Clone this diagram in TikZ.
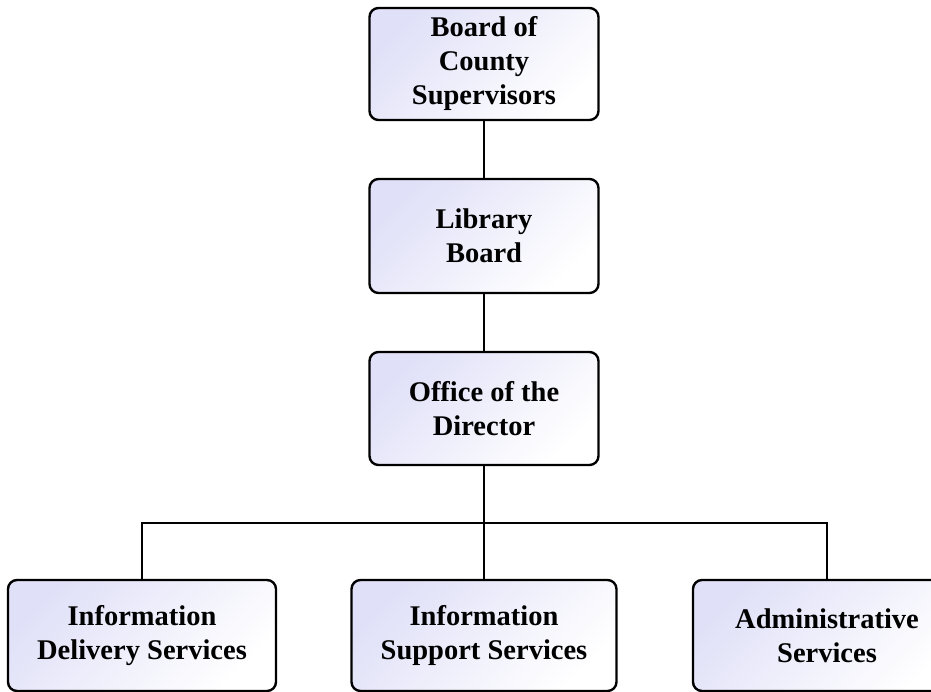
\documentclass[tikz,border=0pt]{standalone}
\usepackage{fontspec}
\setmainfont{Liberation Serif}
\definecolor{boxtop}{RGB}{224,224,248}
\begin{document}
\begin{tikzpicture}[x=1pt,y=-1pt,
  orgbox/.style={draw=black, line width=2.4pt, rounded corners=9pt,
    shading=axis, top color=boxtop, bottom color=white, shading angle=45,
    inner sep=0pt, align=center, font=\fontsize{28.5}{34}\selectfont\bfseries},
  conn/.style={draw=black, line width=2.2pt}]
\useasboundingbox (0,0) rectangle (931,692);
\clip (0,0) rectangle (931,692);
\node[orgbox, minimum width=229pt, minimum height=112pt] (bcs) at (484,64) {Board of\\County\\Supervisors};
\node[orgbox, minimum width=229pt, minimum height=114pt] (lib) at (484,236) {Library\\Board};
\node[orgbox, minimum width=229pt, minimum height=113pt] (off) at (484,408.5) {Office of the\\Director};
\node[orgbox, minimum width=268pt, minimum height=111pt] (ids) at (142,635.5) {Information\\Delivery Services};
\node[orgbox, minimum width=265pt, minimum height=111pt] (iss) at (484,635.5) {Information\\Support Services};
\node[orgbox, minimum width=268pt, minimum height=111pt] (adm) at (827,635.5) {Administrative\\Services};
\coordinate (bus) at (484,523);
\draw[conn] (bcs.south) -- (lib.north);
\draw[conn] (lib.south) -- (off.north);
\draw[conn] (off.south) -- (iss.north);
\draw[conn] (ids.north) -- (ids.north |- bus) -- (adm.north |- bus) -- (adm.north);
\end{tikzpicture}
\end{document}
